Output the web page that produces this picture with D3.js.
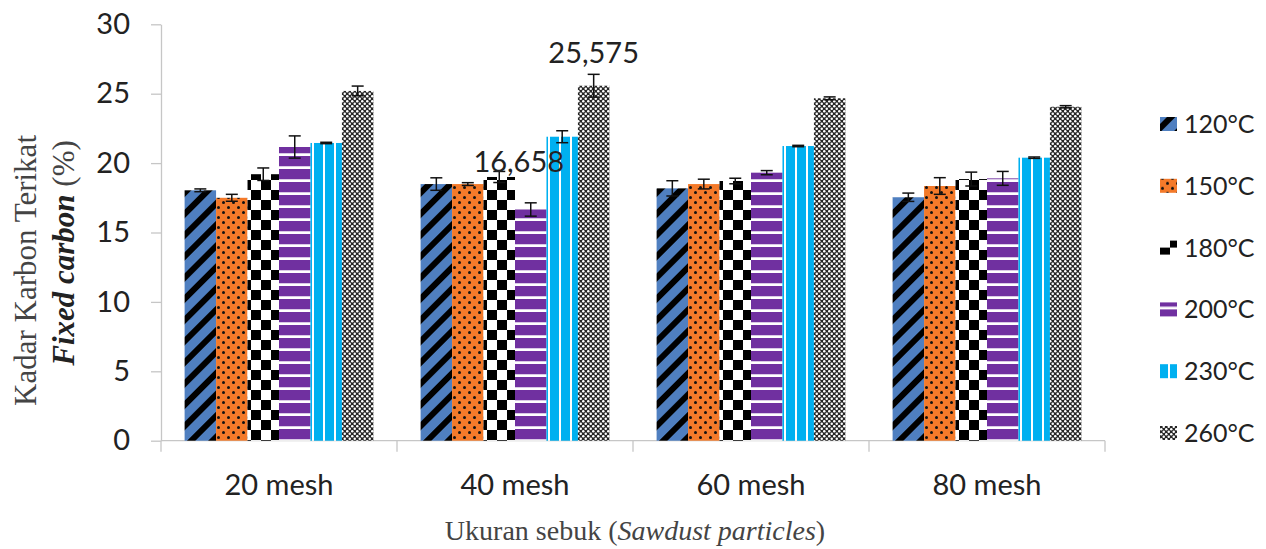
<!DOCTYPE html>
<html>
<head>
<meta charset="utf-8">
<script src="https://cdn.jsdelivr.net/npm/d3@7"></script>
<style>
  html, body { margin: 0; padding: 0; background: #fff; }
  svg { display: block; }
</style>
</head>
<body>
<svg id="chart" width="1266" height="549"></svg>
<script>
// Fixed carbon content (%) by sawdust particle size and torrefaction temperature
const categories = ["20 mesh", "40 mesh", "60 mesh", "80 mesh"];
const seriesNames = ["120°C", "150°C", "180°C", "200°C", "230°C", "260°C"];
const yTicks = [0, 5, 10, 15, 20, 25, 30];

const fc120 = [18.04, 18.49, 18.18, 17.54];
const fc150 = [17.50, 18.49, 18.49, 18.35];
const fc180 = [19.20, 19.00, 18.71, 18.85];
const fc200 = [21.16, 16.658, 19.31, 18.90];
const fc230 = [21.45, 21.90, 21.23, 20.39];
const fc260 = [25.20, 25.575, 24.67, 24.06];

const err120 = [0.10, 0.45, 0.55, 0.30];
const err150 = [0.25, 0.10, 0.35, 0.60];
const err180 = [0.45, 0.40, 0.20, 0.50];
const err200 = [0.80, 0.48, 0.15, 0.50];
const err230 = [0.05, 0.43, 0.05, 0.05];
const err260 = [0.35, 0.82, 0.10, 0.08];

// bars that carry a printed value
const labelledBars = [
  { series: "200°C", category: "40 mesh", text: "16,658" },
  { series: "260°C", category: "40 mesh", text: "25,575" }
];

const seriesValues = [fc120, fc150, fc180, fc200, fc230, fc260];
const seriesErrors = [err120, err150, err180, err200, err230, err260];

const rows = [];
categories.forEach((c, ci) => {
  seriesNames.forEach((s, si) => {
    rows.push({ category: c, series: s, value: seriesValues[si][ci], err: seriesErrors[si][ci] });
  });
});

const svg = d3.select("#chart");
const plot = { left: 161, right: 1105, top: 24.3, bottom: 440.7 };

const y = d3.scaleLinear().domain([0, 30]).range([plot.bottom, plot.top]);
const x0 = d3.scaleBand().domain(categories).range([plot.left, plot.right]).paddingInner(0).paddingOuter(0);
const x1 = d3.scaleBand().domain(seriesNames).range([0, x0.bandwidth()]).paddingInner(0).paddingOuter(0.75);

// ---- fill patterns ----
const defs = svg.append("defs");
const patId = s => "pat" + s.replace(/\D/g, "");

// 120: blue with wide upward diagonal black stripes
let p = defs.append("pattern").attr("id", patId("120°C")).attr("patternUnits", "userSpaceOnUse")
  .attr("width", 15).attr("height", 15).attr("patternTransform", "rotate(45)");
p.append("rect").attr("width", 15).attr("height", 15).attr("fill", "#4f7fc0");
p.append("rect").attr("width", 6).attr("height", 15).attr("fill", "#000");

// 150: orange with black dots
p = defs.append("pattern").attr("id", patId("150°C")).attr("patternUnits", "userSpaceOnUse")
  .attr("width", 10).attr("height", 10);
p.append("rect").attr("width", 10).attr("height", 10).attr("fill", "#f47a2a");
p.append("circle").attr("cx", 2.5).attr("cy", 2.5).attr("r", 1.5).attr("fill", "#111");
p.append("circle").attr("cx", 7.5).attr("cy", 7.5).attr("r", 1.5).attr("fill", "#111");

// 180: black/white checkerboard
p = defs.append("pattern").attr("id", patId("180°C")).attr("patternUnits", "userSpaceOnUse")
  .attr("width", 20).attr("height", 20);
p.append("rect").attr("width", 20).attr("height", 20).attr("fill", "#fff");
p.append("rect").attr("width", 10).attr("height", 10).attr("fill", "#000");
p.append("rect").attr("x", 10).attr("y", 10).attr("width", 10).attr("height", 10).attr("fill", "#000");

// 200: purple with white horizontal lines
p = defs.append("pattern").attr("id", patId("200°C")).attr("patternUnits", "userSpaceOnUse")
  .attr("width", 13).attr("height", 13);
p.append("rect").attr("width", 13).attr("height", 13).attr("fill", "#7030a0");
p.append("rect").attr("y", 10).attr("width", 13).attr("height", 1).attr("fill", "#d9c9e6");
p.append("rect").attr("y", 11).attr("width", 13).attr("height", 2).attr("fill", "#fff");

// 230: light blue with white vertical lines
p = defs.append("pattern").attr("id", patId("230°C")).attr("patternUnits", "userSpaceOnUse")
  .attr("width", 11).attr("height", 11);
p.append("rect").attr("width", 11).attr("height", 11).attr("fill", "#00b0f0");
p.append("rect").attr("x", 8).attr("width", 2).attr("height", 11).attr("fill", "#fff");

// 260: fine dark checker with white dots
p = defs.append("pattern").attr("id", patId("260°C")).attr("patternUnits", "userSpaceOnUse")
  .attr("width", 5).attr("height", 5);
p.append("rect").attr("width", 5).attr("height", 5).attr("fill", "#262626");
p.append("circle").attr("cx", 1.25).attr("cy", 1.25).attr("r", 1.25).attr("fill", "#fff");
p.append("circle").attr("cx", 3.75).attr("cy", 3.75).attr("r", 1.25).attr("fill", "#fff");

const fillFor = s => `url(#${patId(s)})`;

// ---- axes ----
const axisColor = "#c6c6c6";
const textColor = "#222";
const sansFont = "Lato, 'Open Sans', sans-serif";
const serifFont = "'Liberation Serif', 'DejaVu Serif', serif";

const yAxis = svg.append("g")
  .attr("transform", `translate(${plot.left},0)`)
  .call(d3.axisLeft(y).tickValues(yTicks).tickSize(10).tickSizeOuter(0).tickPadding(21));
yAxis.select(".domain").attr("stroke", axisColor).attr("stroke-width", 1.3);
yAxis.selectAll(".tick line").attr("stroke", axisColor).attr("stroke-width", 1.3);
yAxis.selectAll(".tick text").attr("fill", textColor)
  .style("font-family", sansFont).style("font-size", "29px");

// x axis baseline and category boundary ticks
const xAxis = svg.append("g").attr("transform", `translate(0,${plot.bottom})`);
xAxis.append("line").attr("x1", plot.left).attr("x2", plot.right)
  .attr("stroke", axisColor).attr("stroke-width", 1.3);
const boundaries = categories.map(c => x0(c)).concat([x0(categories[categories.length - 1]) + x0.bandwidth()]);
xAxis.selectAll("line.bound").data(boundaries).join("line").attr("class", "bound")
  .attr("x1", d => d).attr("x2", d => d).attr("y1", 0).attr("y2", 11)
  .attr("stroke", axisColor).attr("stroke-width", 1.3);

const xLabels = svg.append("g")
  .attr("transform", `translate(0,${plot.bottom})`)
  .call(d3.axisBottom(x0).tickSize(0).tickPadding(0));
xLabels.select(".domain").remove();
xLabels.selectAll(".tick text").attr("fill", textColor)
  .attr("y", 54).attr("dy", 0)
  .style("font-family", sansFont).style("font-size", "29px");

// ---- bars ----
const groups = svg.append("g").selectAll("g")
  .data(categories).join("g")
  .attr("transform", c => `translate(${x0(c)},0)`);

groups.selectAll("rect")
  .data(c => rows.filter(r => r.category === c))
  .join("rect")
  .attr("x", d => x1(d.series))
  .attr("y", d => y(d.value))
  .attr("width", x1.bandwidth())
  .attr("height", d => y(0) - y(d.value))
  .attr("fill", d => fillFor(d.series));

// ---- error bars ----
const capHalf = 6;
const eb = groups.selectAll("g.err")
  .data(c => rows.filter(r => r.category === c))
  .join("g").attr("class", "err")
  .attr("stroke", "#111").attr("stroke-width", 1.5);
eb.append("line")
  .attr("x1", d => x1(d.series) + x1.bandwidth() / 2)
  .attr("x2", d => x1(d.series) + x1.bandwidth() / 2)
  .attr("y1", d => y(d.value + d.err)).attr("y2", d => y(d.value - d.err));
eb.append("line")
  .attr("x1", d => x1(d.series) + x1.bandwidth() / 2 - capHalf)
  .attr("x2", d => x1(d.series) + x1.bandwidth() / 2 + capHalf)
  .attr("y1", d => y(d.value + d.err)).attr("y2", d => y(d.value + d.err));
eb.append("line")
  .attr("x1", d => x1(d.series) + x1.bandwidth() / 2 - capHalf)
  .attr("x2", d => x1(d.series) + x1.bandwidth() / 2 + capHalf)
  .attr("y1", d => y(d.value - d.err)).attr("y2", d => y(d.value - d.err));

// ---- value labels ----
const labelOffsets = { "16,658": { dx: -12, dy: -37.5 }, "25,575": { dx: 0, dy: -11 } };
svg.append("g").selectAll("text")
  .data(labelledBars.map(l => Object.assign({}, l, rows.find(r => r.series === l.series && r.category === l.category))))
  .join("text")
  .attr("x", d => x0(d.category) + x1(d.series) + x1.bandwidth() / 2 + labelOffsets[d.text].dx)
  .attr("y", d => (d.text === "25,575" ? y(d.value + d.err) : y(d.value)) + labelOffsets[d.text].dy)
  .attr("text-anchor", "middle")
  .attr("fill", textColor)
  .style("font-family", sansFont).style("font-size", "29px")
  .text(d => d.text);

// ---- legend ----
const legend = svg.append("g").selectAll("g")
  .data(seriesNames).join("g")
  .attr("transform", (s, i) => `translate(1160,${124 + i * 61.8})`);
legend.append("rect").attr("x", 0).attr("y", -7).attr("width", 17).attr("height", 14)
  .attr("fill", s => fillFor(s));
legend.append("text").attr("x", 24).attr("dy", "0.36em")
  .attr("fill", textColor)
  .style("font-family", sansFont).style("font-size", "25px")
  .text(s => s);

// ---- axis titles ----
svg.append("text")
  .attr("transform", "translate(36,270.5) rotate(-90)")
  .attr("text-anchor", "middle")
  .attr("fill", "#444")
  .style("font-family", serifFont).style("font-size", "31px")
  .text("Kadar Karbon Terikat");

const yTitle2 = svg.append("text")
  .attr("transform", "translate(74,253) rotate(-90)")
  .attr("text-anchor", "middle")
  .attr("fill", "#222")
  .style("font-family", serifFont).style("font-size", "31px");
yTitle2.append("tspan").style("font-weight", "bold").style("font-style", "italic").text("Fixed carbon");
yTitle2.append("tspan").attr("fill", "#444").text(" (%)");

const xTitle = svg.append("text")
  .attr("x", (plot.left + plot.right) / 2 + 2).attr("y", 540)
  .attr("text-anchor", "middle")
  .attr("fill", "#444")
  .style("font-family", serifFont).style("font-size", "28px");
xTitle.append("tspan").text("Ukuran sebuk (");
xTitle.append("tspan").style("font-style", "italic").text("Sawdust particles");
xTitle.append("tspan").text(")");
</script>
</body>
</html>
